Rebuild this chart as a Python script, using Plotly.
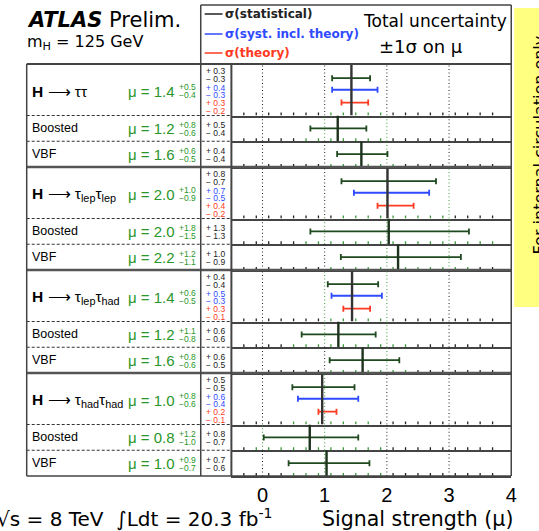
import plotly.graph_objects as go

# ---- data: signal strength per channel / category (top to bottom) ----
row_labels = ["<b>H</b> ⟶ ττ", "Boosted", "VBF",
              "<b>H</b> ⟶ τ<sub>lep</sub>τ<sub>lep</sub>", "Boosted", "VBF",
              "<b>H</b> ⟶ τ<sub>lep</sub>τ<sub>had</sub>", "Boosted", "VBF",
              "<b>H</b> ⟶ τ<sub>had</sub>τ<sub>had</sub>", "Boosted", "VBF"]
is_combined = [True, False, False] * 4
mu = [1.43, 1.21, 1.59, 2.01, 2.03, 2.18, 1.44, 1.22, 1.61, 0.96, 0.76, 1.03]
tot_up = [0.5, 0.8, 0.6, 1.0, 1.8, 1.2, 0.6, 1.1, 0.8, 0.8, 1.2, 0.9]
tot_dn = [0.4, 0.6, 0.5, 0.9, 1.5, 1.1, 0.5, 0.8, 0.6, 0.6, 1.0, 0.7]
stat_up = [0.30, 0.46, 0.42, 0.78, 1.29, 1.01, 0.42, 0.60, 0.59, 0.52, 0.78, 0.69]
stat_dn = [0.31, 0.44, 0.39, 0.74, 1.26, 0.92, 0.39, 0.59, 0.53, 0.48, 0.74, 0.61]
# systematic (incl. theory) and theory components, combined channels only
syst_up = [0.42, 0.67, 0.48, 0.58]
syst_dn = [0.31, 0.54, 0.33, 0.39]
theo_up = [0.27, 0.42, 0.29, 0.23]
theo_dn = [0.16, 0.16, 0.14, 0.06]
x_ticks = [0, 1, 2, 3, 4]
x_range = [-0.5, 4]
minor_step = 0.2

# ---- colours ----
C_STAT = "#1f4a1f"
C_SYST = "#2f4bff"
C_THEO = "#ff3a22"
C_MU = "#2a962a"
C_CENTER = "#333333"
C_BAND = "#3c9a3c"
C_FRAME = "#444444"
FONT = "Liberation Sans"
WIDE = "DejaVu Sans"

# ---- page geometry (pixels) ----
W, H = 539, 531
PLOT_L, PLOT_R = 234, 517
TABLE_L, NUM_L = 27, 203
TOP, BOTTOM, LEG_TOP = 64, 476, 5
heights = [2 if c else 1 for c in is_combined]
unit = (BOTTOM - TOP) / sum(heights)
tops = []
acc = TOP
for h in heights:
    tops.append(acc)
    acc += h * unit


def fx(p):
    return p / W


def fy(p):
    return 1 - p / H


fig = go.Figure()
annotations = []
shapes = []


def note(text, x, y, size, color="black", anchor="left", family=FONT, **kw):
    annotations.append(dict(text=text, x=fx(x), y=fy(y), xref="paper", yref="paper",
                            xanchor=anchor, yanchor="middle", showarrow=False, borderpad=0,
                            font=dict(family=family, size=size, color=color), **kw))


def hline(y, x0, x1, width=1.5, color=C_FRAME, dash="solid"):
    shapes.append(dict(type="line", xref="paper", yref="paper", x0=fx(x0), x1=fx(x1),
                       y0=fy(y), y1=fy(y), line=dict(color=color, width=width, dash=dash)))


def vline(x, y0, y1, width=1.5, color=C_FRAME):
    shapes.append(dict(type="line", xref="paper", yref="paper", x0=fx(x), x1=fx(x),
                       y0=fy(y0), y1=fy(y1), line=dict(color=color, width=width)))


def fmt(v):
    return f"{v:.1f}"


n_minor = int(round((x_range[1] - x_range[0]) / minor_step))
minor_vals = [round(x_range[0] + minor_step * j, 1) for j in range(1, n_minor)]
major_vals = [t for t in x_ticks if x_range[0] < t < x_range[1]]
major_len, minor_len = 7 / unit, 3 / unit

layout_axes = {}
sys_idx = 0
for i in range(len(mu)):
    h = heights[i]
    xa = "x" if i == 0 else f"x{i + 1}"
    ya = "y" if i == 0 else f"y{i + 1}"
    last = i == len(mu) - 1
    top_px, bot_px = tops[i], tops[i] + h * unit
    layout_axes["xaxis" if i == 0 else f"xaxis{i + 1}"] = dict(
        domain=[fx(PLOT_L), fx(PLOT_R)], range=x_range, anchor=ya,
        showgrid=False, zeroline=False, showline=True, linecolor=C_FRAME, linewidth=1.5,
        ticks="", tickvals=x_ticks, showticklabels=last,
        tickfont=dict(family=FONT, size=20, color="black"), fixedrange=True)
    layout_axes["yaxis" if i == 0 else f"yaxis{i + 1}"] = dict(
        domain=[fy(bot_px), fy(top_px)], range=[0, h], visible=False, fixedrange=True)

    lo, hi = mu[i] - tot_dn[i], mu[i] + tot_up[i]

    # dotted grid lines, tinted inside the total-uncertainty interval
    for inside, col in ((False, "#222222"), (True, C_BAND)):
        gx, gy = [], []
        for k in major_vals:
            if (lo <= k <= hi) == inside:
                gx += [k, k, None]
                gy += [0, h, None]
        if gx:
            fig.add_trace(go.Scatter(x=gx, y=gy, xaxis=xa, yaxis=ya, mode="lines",
                                     line=dict(color=col, width=1, dash="1px,2.5px"),
                                     hoverinfo="skip", showlegend=False))
    # tick marks along the bottom of each row
    for inside, col in ((False, "#222222"), (True, C_BAND)):
        tx, ty = [], []
        for v in minor_vals:
            if (lo <= v <= hi) == inside:
                ln = major_len if abs(v - round(v)) < 1e-9 else minor_len
                tx += [v, v, None]
                ty += [0, ln, None]
        if tx:
            fig.add_trace(go.Scatter(x=tx, y=ty, xaxis=xa, yaxis=ya, mode="lines",
                                     line=dict(color=col, width=1.3),
                                     hoverinfo="skip", showlegend=False))

    # error bars
    bars = [(stat_up[i], stat_dn[i], C_STAT)]
    if is_combined[i]:
        bars += [(syst_up[sys_idx], syst_dn[sys_idx], C_SYST),
                 (theo_up[sys_idx], theo_dn[sys_idx], C_THEO)]
        ys = [h - 0.55, h - 1.0, h - 1.5]
    else:
        ys = [h / 2]
    for (up, dn, col), yv in zip(bars, ys):
        fig.add_trace(go.Scatter(
            x=[mu[i]], y=[yv], xaxis=xa, yaxis=ya, mode="markers",
            marker=dict(size=1, color=col),
            error_x=dict(type="data", symmetric=False, array=[up], arrayminus=[dn],
                         color=col, thickness=1.8, width=3),
            hoverinfo="skip", showlegend=False))
    # central value
    fig.add_trace(go.Scatter(x=[mu[i], mu[i]], y=[0, h], xaxis=xa, yaxis=ya, mode="lines",
                             line=dict(color=C_CENTER if is_combined[i] else "#1d331d",
                                       width=2.4),
                             hoverinfo="skip", showlegend=False))

    # ---- table text ----
    rc = (top_px + bot_px) / 2
    if is_combined[i]:
        note(row_labels[i], 31, rc + 2, 15.5)
        note(f"μ = {fmt(mu[i])}", 178, rc + 1.5, 15, C_MU, anchor="right")
        note(f"+{fmt(tot_up[i])}", 180, rc - 2.5, 8.5, C_MU)
        note(f"−{fmt(tot_dn[i])}", 180, rc + 5.5, 8.5, C_MU)
        lines = [(f"+ {fmt(stat_up[i])}", "#222222"), (f"− {fmt(stat_dn[i])}", "#222222"),
                 (f"+ {fmt(syst_up[sys_idx])}", C_SYST), (f"− {fmt(syst_dn[sys_idx])}", C_SYST),
                 (f"+ {fmt(theo_up[sys_idx])}", C_THEO), (f"− {fmt(theo_dn[sys_idx])}", C_THEO)]
        offs = [6.7, 14.7, 24.0, 31.3, 39.3, 47.3]
        for (t, col), o in zip(lines, offs):
            note(t, 207, top_px + o, 8.5, col)
        sys_idx += 1
    else:
        note(row_labels[i], 31, rc, 12.5)
        note(f"μ = {fmt(mu[i])}", 178, rc + 0.5, 15, C_MU, anchor="right")
        note(f"+{fmt(tot_up[i])}", 180, rc - 3.5, 8.5, C_MU)
        note(f"−{fmt(tot_dn[i])}", 180, rc + 4.5, 8.5, C_MU)
        note(f"+ {fmt(stat_up[i])}", 207, rc - 3.5, 8.5, "#222222")
        note(f"− {fmt(stat_dn[i])}", 207, rc + 4.5, 8.5, "#222222")

    # row separators in the table columns
    if i < len(mu) - 1:
        if is_combined[i + 1]:
            hline(bot_px, TABLE_L, PLOT_R, width=2.5, color="#555555")
        else:
            hline(bot_px, TABLE_L, PLOT_L, width=1.2, color="#333333", dash="3px,2px")

# ---- frame ----
hline(LEG_TOP, NUM_L, PLOT_R, width=1.5)
hline(TOP, TABLE_L, PLOT_R, width=2)
hline(BOTTOM, TABLE_L, PLOT_R, width=1.5)
vline(TABLE_L, TOP, BOTTOM)
vline(NUM_L, LEG_TOP, BOTTOM)
vline(PLOT_L, TOP, BOTTOM, width=2)
vline(PLOT_R, LEG_TOP, BOTTOM)

# ---- legend box ----
for y, col, txt in ((14, "#222222", "σ(statistical)"),
                    (34, C_SYST, "σ(syst. incl. theory)"),
                    (53, C_THEO, "σ(theory)")):
    hline(y, 207, 225, width=1.5, color=col)
    note(f"<b>{txt}</b>", 227, y, 12, col, family=WIDE)
note("Total uncertainty", 440, 21, 17, anchor="center", family=WIDE)
note("±1σ on μ", 426, 46, 18, anchor="center", family=WIDE)

# ---- headers and footers ----
note("<b><i>ATLAS</i></b> Prelim.", 26, 20, 21, family=WIDE)
note("m<sub>H</sub> = 125 GeV", 26, 43, 16, family=WIDE)
note("√s = 8 TeV  ∫Ldt = 20.3 fb<sup>-1</sup>", -4, 518, 20, family=WIDE)
note("Signal strength (μ)", 520, 519, 20.5, anchor="right", family=WIDE)

# ---- status stamp on the right edge ----
shapes.append(dict(type="rect", xref="paper", yref="paper", x0=fx(520), x1=fx(560),
                   y0=fy(307), y1=fy(8), fillcolor="#ffff80", line=dict(width=0),
                   layer="below"))
note("For internal circulation only", 535, 145, 16, family=WIDE, textangle=-90)

fig.update_layout(
    width=W, height=H, margin=dict(l=0, r=0, t=0, b=0),
    paper_bgcolor="white", plot_bgcolor="rgba(0,0,0,0)",
    font=dict(family=FONT), showlegend=False,
    annotations=annotations, shapes=shapes, **layout_axes)

fig.write_html("out.html")
